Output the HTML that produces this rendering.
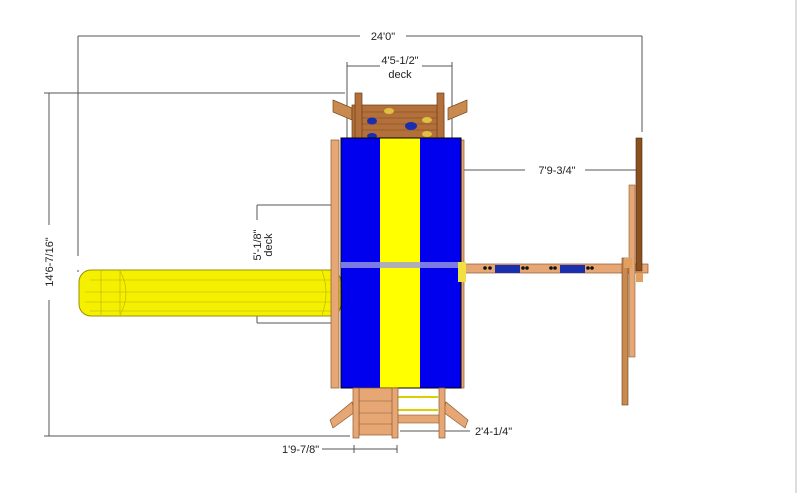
<!DOCTYPE html>
<html><head><meta charset="utf-8"><style>
html,body{margin:0;padding:0;background:#fff;width:800px;height:493px;overflow:hidden}
text{font-family:"Liberation Sans",sans-serif;font-size:11px;fill:#222}
</style></head><body>
<svg width="800" height="493" viewBox="0 0 800 493" xmlns="http://www.w3.org/2000/svg">
<line x1="796" y1="0" x2="796" y2="493" stroke="#bbb" stroke-width="1"/>
<!-- dimension lines -->
<g stroke="#555" stroke-width="1" fill="none">
<line x1="78" y1="36" x2="642" y2="36"/>
<line x1="78" y1="36" x2="78" y2="272"/>
<line x1="642" y1="36" x2="642" y2="132"/>
<line x1="44" y1="93" x2="345" y2="93"/>
<line x1="44" y1="436" x2="350" y2="436"/>
<line x1="49" y1="93" x2="49" y2="436"/>
<line x1="347" y1="62" x2="347" y2="140"/>
<line x1="452" y1="62" x2="452" y2="140"/>
<line x1="347" y1="66" x2="452" y2="66"/>
<line x1="460" y1="170" x2="640" y2="170"/>
<line x1="257" y1="205" x2="335" y2="205"/>
<line x1="257" y1="323" x2="335" y2="323"/>
<line x1="257" y1="205" x2="257" y2="323"/>
<line x1="322" y1="449" x2="397" y2="449"/>
<line x1="354" y1="445" x2="354" y2="453"/>
<line x1="397" y1="445" x2="397" y2="453"/>
<line x1="400" y1="431" x2="470" y2="431"/>
</g>
<rect x="60" y="256" width="20" height="14" fill="#fff"/>
<rect x="360" y="28" width="46" height="14" fill="#fff"/>
<text x="383" y="40" text-anchor="middle">24'0"</text>
<rect x="380" y="58" width="42" height="14" fill="#fff"/>
<text x="400" y="64" text-anchor="middle">4'5-1/2"</text>
<text x="400" y="78" text-anchor="middle">deck</text>
<rect x="525" y="163" width="60" height="14" fill="#fff"/>
<text x="557" y="174" text-anchor="middle">7'9-3/4"</text>
<rect x="42" y="225" width="14" height="75" fill="#fff"/>
<text transform="translate(53,262) rotate(-90)" text-anchor="middle">14'6-7/16"</text>
<rect x="244" y="220" width="28" height="50" fill="#fff"/>
<text transform="translate(261,245) rotate(-90)" text-anchor="middle">5'-1/8"</text>
<text transform="translate(272,245) rotate(-90)" text-anchor="middle">deck</text>
<text x="475" y="435">2'4-1/4"</text>
<text x="282" y="453">1'9-7/8"</text>
<!-- slide -->
<rect x="79" y="270" width="262" height="46" rx="12" fill="#f5f000" stroke="#9a9000" stroke-width="1"/>
<g stroke="#b8b000" stroke-width="0.6" fill="none">
<line x1="90" y1="280" x2="340" y2="280"/><line x1="85" y1="292" x2="340" y2="292"/>
<line x1="85" y1="302" x2="340" y2="302"/><line x1="90" y1="311" x2="340" y2="311"/>
<line x1="101" y1="271" x2="101" y2="315"/><line x1="120" y1="271" x2="120" y2="315"/>
<path d="M120 271 Q132 293 120 315"/><path d="M322 271 Q330 293 322 315"/>
</g>
<!-- top deck -->
<polygon points="333,100 352,108 352,120 333,112" fill="#c98a4f" stroke="#7a4a1c" stroke-width="0.7"/>
<polygon points="467,100 448,108 448,120 467,112" fill="#c98a4f" stroke="#7a4a1c" stroke-width="0.7"/>
<rect x="352" y="105" width="92" height="35" fill="#b3703a" stroke="#6a3e18" stroke-width="0.7"/>
<g stroke="#7a4a1c" stroke-width="0.5"><line x1="356" y1="112" x2="440" y2="112"/><line x1="356" y1="118" x2="440" y2="118"/><line x1="356" y1="124" x2="440" y2="124"/><line x1="356" y1="130" x2="440" y2="130"/></g>
<rect x="355" y="93" width="7" height="47" fill="#b3703a" stroke="#6a3e18" stroke-width="0.7"/>
<rect x="437" y="93" width="7" height="47" fill="#b3703a" stroke="#6a3e18" stroke-width="0.7"/>
<ellipse cx="372" cy="121" rx="5" ry="3.5" fill="#1a2fb0"/><ellipse cx="411" cy="126" rx="6" ry="4" fill="#1a2fb0"/>
<ellipse cx="389" cy="111" rx="5" ry="3" fill="#e0c040"/><ellipse cx="427" cy="120" rx="5" ry="3" fill="#e0c040"/>
<ellipse cx="427" cy="134" rx="5" ry="3" fill="#e0c040"/><ellipse cx="372" cy="136" rx="5" ry="3" fill="#1a2fb0"/>
<!-- posts beside canopy -->
<rect x="331" y="140" width="8" height="248" fill="#e6a775" stroke="#8a5a30" stroke-width="0.7"/>
<rect x="456" y="140" width="8" height="248" fill="#e6a775" stroke="#8a5a30" stroke-width="0.7"/>
<!-- canopy -->
<rect x="341" y="138" width="39" height="250" fill="#0000ee"/>
<rect x="380" y="138" width="40" height="250" fill="#ffff00"/>
<rect x="420" y="138" width="41" height="250" fill="#0000ee"/>
<rect x="341" y="138" width="120" height="250" fill="none" stroke="#000" stroke-width="1"/>
<rect x="341" y="262" width="120" height="6" fill="#9a9ae0" opacity="0.8"/>
<!-- swing beam -->
<rect x="463" y="264" width="185" height="9" fill="#e6a775" stroke="#8a5a30" stroke-width="0.7"/>
<rect x="458" y="262" width="8" height="20" fill="#f0e040"/>
<rect x="495" y="265" width="25" height="8" fill="#1a2fb0"/><rect x="560" y="265" width="25" height="8" fill="#1a2fb0"/>
<g fill="#111"><circle cx="485" cy="268" r="1.8"/><circle cx="490" cy="268" r="1.8"/><circle cx="523" cy="268" r="1.8"/><circle cx="527" cy="268" r="1.8"/><circle cx="551" cy="268" r="1.8"/><circle cx="555" cy="268" r="1.8"/><circle cx="588" cy="268" r="1.8"/><circle cx="592" cy="268" r="1.8"/></g>
<!-- right A-frame -->
<rect x="622" y="258" width="6" height="147" fill="#c98a4f" stroke="#6a3e18" stroke-width="0.6"/>
<rect x="629" y="185" width="6" height="172" fill="#e6a775" stroke="#8a5a30" stroke-width="0.6"/>
<rect x="636" y="138" width="6" height="133" fill="#8a5020" stroke="#4a2a0c" stroke-width="0.6"/>
<rect x="624" y="258" width="8" height="10" fill="#e0a060"/>
<rect x="636" y="273" width="7" height="9" fill="#e0a060"/>
<!-- bottom deck -->
<polygon points="330,420 352,402 355,412 333,428" fill="#e6a775" stroke="#8a5a30" stroke-width="0.7"/>
<polygon points="468,420 446,402 443,412 465,428" fill="#e6a775" stroke="#8a5a30" stroke-width="0.7"/>
<rect x="359" y="388" width="36" height="47" fill="#e6a775" stroke="#8a5a30" stroke-width="0.7"/>
<g stroke="#8a5a30" stroke-width="0.6"><line x1="359" y1="401" x2="395" y2="401"/><line x1="359" y1="413" x2="395" y2="413"/><line x1="359" y1="424" x2="395" y2="424"/></g>
<rect x="395" y="415" width="48" height="8" fill="#e6a775" stroke="#8a5a30" stroke-width="0.6"/>
<g stroke="#d8d000" stroke-width="2"><line x1="398" y1="397" x2="438" y2="397"/><line x1="398" y1="410" x2="438" y2="410"/></g>
<rect x="353" y="388" width="6" height="50" fill="#e6a775" stroke="#8a5a30" stroke-width="0.7"/>
<rect x="392" y="388" width="6" height="50" fill="#e6a775" stroke="#8a5a30" stroke-width="0.7"/>
<rect x="439" y="388" width="6" height="50" fill="#e6a775" stroke="#8a5a30" stroke-width="0.7"/>
</svg>
</body></html>
